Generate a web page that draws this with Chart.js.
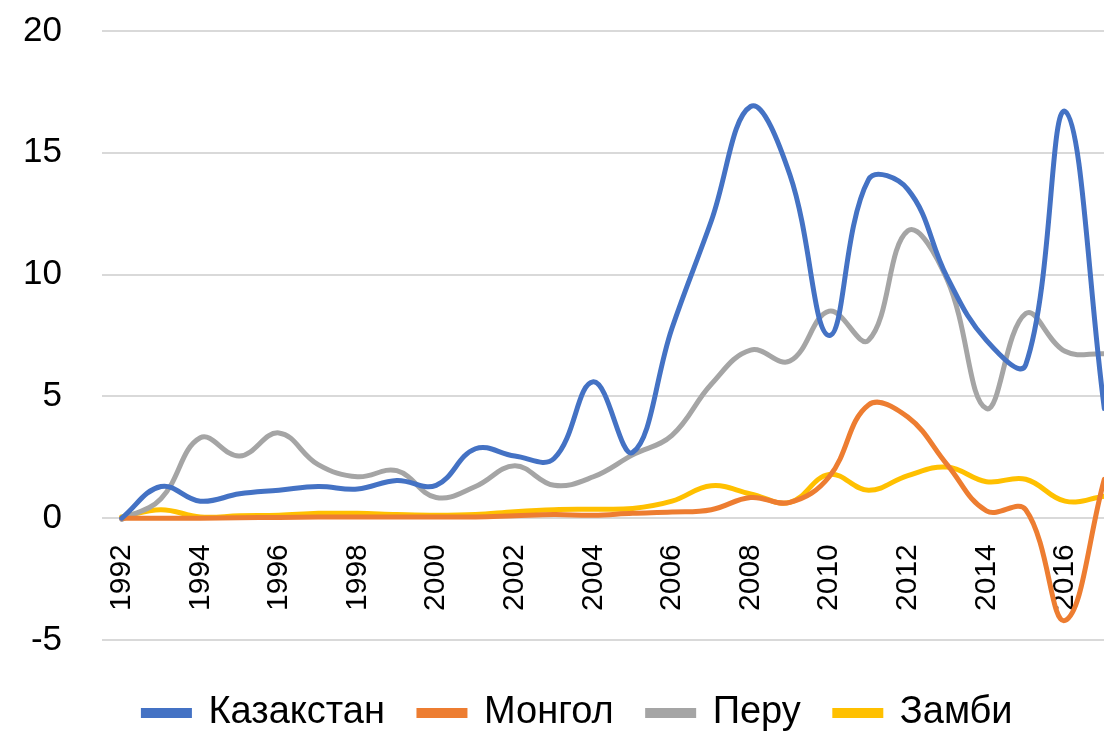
<!DOCTYPE html>
<html>
<head>
<meta charset="utf-8">
<script src="https://cdn.jsdelivr.net/npm/chart.js@4"></script>
<style>
  html, body { margin: 0; padding: 0; overflow: hidden; background: #fff; }
  #wrap { width: 1160px; height: 731px; }
</style>
</head>
<body>
<div id="wrap"><canvas id="chart"></canvas></div>
<script>
var years = ['1992', '1993', '1994', '1995', '1996', '1997', '1998', '1999', '2000', '2001', '2002', '2003', '2004',
  '2005', '2006', '2007', '2008', '2009', '2010', '2011', '2012', '2013', '2014', '2015', '2016', '2017'];

var kazakhstan = [0, 1.3, 0.7, 1.0, 1.15, 1.3, 1.2, 1.55, 1.35, 2.85, 2.55, 2.45, 5.6, 2.7, 7.8, 12.2, 16.9, 14.1, 7.5, 13.9, 13.5, 9.9, 7.3, 6.3, 16.7, 4.5];
var mongol = [0, 0, 0, 0.02, 0.03, 0.05, 0.05, 0.05, 0.05, 0.05, 0.1, 0.15, 0.12, 0.2, 0.25, 0.35, 0.85, 0.65, 1.7, 4.65, 4.15, 2.2, 0.3, 0.35, -4.2, 1.6];
var peru = [-0.05, 0.8, 3.3, 2.55, 3.5, 2.2, 1.7, 1.95, 0.85, 1.3, 2.15, 1.35, 1.7, 2.6, 3.4, 5.5, 6.9, 6.45, 8.5, 7.3, 11.8, 9.8, 4.5, 8.4, 6.85, 6.75];
var zambia = [0.05, 0.35, 0.05, 0.1, 0.12, 0.2, 0.2, 0.15, 0.12, 0.15, 0.27, 0.35, 0.37, 0.4, 0.7, 1.33, 1.0, 0.65, 1.8, 1.15, 1.75, 2.1, 1.5, 1.6, 0.7, 0.9];

var yTicks = [-5, 0, 5, 10, 15, 20];

function series(label, color, data) {
  return {
    label: label,
    data: data,
    borderColor: color,
    backgroundColor: color,
    borderWidth: 5,
    borderCapStyle: 'round',
    pointRadius: 0,
    pointHoverRadius: 0,
    tension: 0.4,
    fill: false
  };
}

// legend in the original is centred a little to the right of the canvas middle
var legendShift = {
  id: 'legendShift',
  afterLayout: function(chart) {
    if (chart.legend) {
      chart.legend.left += 8;
      chart.legend.right += 8;
    }
  }
};

var ctx = document.getElementById('chart').getContext('2d');
var chart = new Chart(ctx, {
  type: 'line',
  data: {
    labels: years,
    datasets: [
      series('Казакстан', '#4472C4', kazakhstan),
      series('Монгол', '#ED7D31', mongol),
      series('Перу', '#A5A5A5', peru),
      series('Замби', '#FFC000', zambia)
    ]
  },
  plugins: [legendShift],
  options: {
    responsive: true,
    maintainAspectRatio: false,
    animation: false,
    layout: { padding: { left: 16, right: 36, top: 31, bottom: -11 } },
    plugins: {
      tooltip: { enabled: false },
      legend: {
        position: 'bottom',
        labels: {
          color: '#000',
          font: { family: 'Liberation Sans', size: 38 },
          boxWidth: 46,
          boxHeight: 5,
          padding: 34
        },
        title: { display: true, text: ' ', font: { size: 10 }, padding: 4 }
      }
    },
    scales: {
      x: {
        position: { y: 0 },
        offset: true,
        grid: { display: false, drawTicks: false },
        border: { display: false },
        afterFit: function(s) { s.paddingLeft = 0; s.paddingRight = 0; },
        ticks: {
          autoSkip: false,
          minRotation: 90,
          maxRotation: 90,
          padding: 26,
          color: '#000',
          font: { family: 'Liberation Sans', size: 30 },
          callback: function(v, i) { return i % 2 === 0 ? years[i] : ''; }
        }
      },
      y: {
        min: yTicks[0],
        max: yTicks[yTicks.length - 1],
        afterBuildTicks: function(axis) {
          axis.ticks = yTicks.map(function(v) { return { value: v }; });
        },
        afterFit: function(s) { s.width = 86; s.paddingTop = 0; s.paddingBottom = 0; },
        grid: { color: '#D9D9D9', lineWidth: 2, drawTicks: false },
        border: { display: false },
        ticks: {
          padding: 40,
          color: '#000',
          font: { family: 'Liberation Sans', size: 35 }
        }
      }
    }
  }
});
</script>
</body>
</html>
